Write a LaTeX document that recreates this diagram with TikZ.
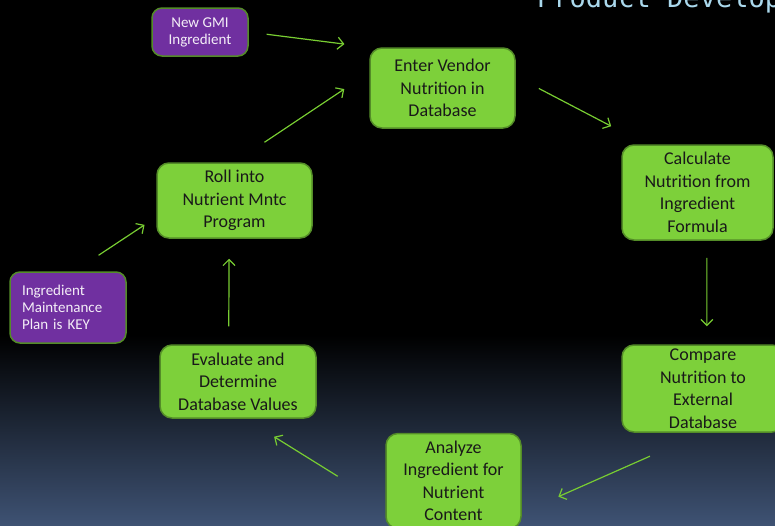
\documentclass[tikz,border=0pt]{standalone}
\usepackage{fontspec}
\setmainfont{Carlito}
\newfontfamily\titlefont{DejaVu Sans Mono}
\usepackage{tikz}
\usetikzlibrary{arrows.meta}
\definecolor{boxgreen}{RGB}{125,208,58}
\definecolor{edgegreen}{RGB}{84,140,40}
\definecolor{notepurple}{RGB}{112,48,160}
\definecolor{arrowgreen}{RGB}{120,205,50}
\definecolor{titleblue}{RGB}{170,216,236}
\definecolor{deepblue}{RGB}{62,82,115}
\tikzset{
    stepnode/.style={
        draw=edgegreen,
        fill=boxgreen,
        line width=1.5pt,
        rounded corners=12pt,
        inner sep=0,
        align=center,
        text=black!90,
        font=\fontsize{18}{22.5}\selectfont,
    },
    notenode/.style={
        draw=edgegreen,
        fill=notepurple,
        line width=1.5pt,
        rounded corners=10pt,
        inner sep=0,
        text=white!92!notepurple,
        font=\fontsize{15}{17}\selectfont,
    },
    flowarrow/.style={
        -{Straight Barb[length=6pt, width=12pt]},
        draw=arrowgreen,
        line width=1.2pt,
    },
}

\begin{document}
\begin{tikzpicture}[x=1pt, y=-1pt]
            \useasboundingbox (0,0) rectangle (775,525);
            \clip (0,0) rectangle (775,525);
            \fill[black] (0,0) rectangle (775,525);
            \shade[top color=black, bottom color=deepblue] (0,335) rectangle (775,525);

            \node[anchor=base west, inner sep=0, text=titleblue, font=\titlefont\fontsize{27}{30}\selectfont] at (537,7) (title) {Product Development};

            \node[notenode, minimum width=96pt, minimum height=48pt, align=center] at (200,32) (gmi) {New GMI\\Ingredient};
            \node[notenode, minimum width=116pt, minimum height=71pt, text width=92pt, align=left] at (68,307.5) (maint) {Ingredient\\Maintenance\\Plan is KEY};

            \node[stepnode, minimum width=145pt, minimum height=80pt] at (442.5,88) (vendor) {Enter Vendor\\Nutrition in\\Database};
            \node[stepnode, minimum width=151pt, minimum height=95pt] at (697.5,192.5) (calc) {Calculate\\Nutrition from\\Ingredient\\Formula};
            \node[stepnode, minimum width=162pt, minimum height=87pt] at (703,388.5) (comp) {Compare\\Nutrition to\\External\\Database};
            \node[stepnode, minimum width=135pt, minimum height=95pt] at (453.5,481) (anal) {Analyze\\Ingredient for\\Nutrient\\Content};
            \node[stepnode, minimum width=156pt, minimum height=73pt] at (238,381.5) (eval) {Evaluate and\\Determine\\Database Values};
            \node[stepnode, minimum width=155pt, minimum height=75pt] at (234.5,200.5) (roll) {Roll into\\Nutrient Mntc\\Program};

            \draw[flowarrow, shorten <=18pt, shorten >=25pt] (gmi.east) -- (vendor.north west);
            \draw[flowarrow, shorten <=26pt, shorten >=39pt] (vendor.9) -- (calc.137);
            \draw[flowarrow, shorten <=17pt, shorten >=18pt] (calc.-79) -- (comp.85);
            \draw[flowarrow, shorten <=58pt, shorten >=40pt] (comp.south) -- (anal.-25);
            \draw[flowarrow, shorten <=56pt, shorten >=34pt] (anal.200) -- (eval.-79);
            \draw[flowarrow, shorten <=18pt, shorten >=20pt] (eval.104) -- (roll.262);
            \draw[flowarrow, shorten <=36pt, shorten >=30pt] (roll.north) -- (vendor.168);
            \draw[flowarrow, shorten <=29pt, shorten >=14pt] (maint.80) -- (roll.192);
        \end{tikzpicture}
\end{document}
